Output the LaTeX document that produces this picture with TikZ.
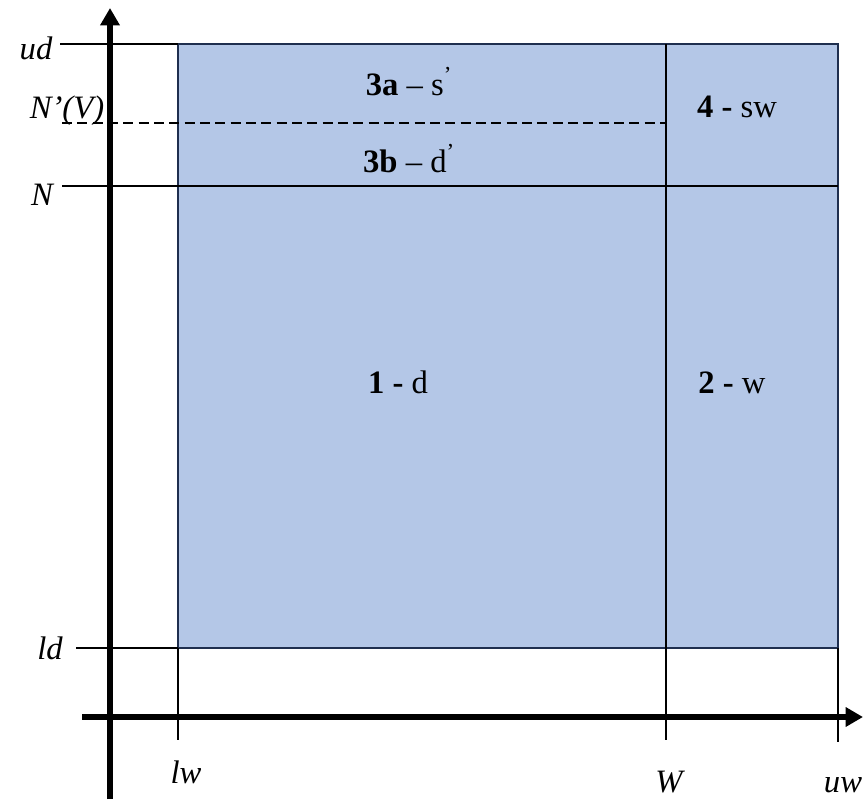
\documentclass[tikz,border=0pt]{standalone}
\usepackage{fontspec}
\setmainfont{Liberation Serif}
\usetikzlibrary{arrows.meta,positioning}
\definecolor{zoneBlue}{HTML}{B4C7E7}
\definecolor{zoneEdge}{HTML}{1F2F4F}

\begin{document}
\begin{tikzpicture}[x=0.75pt,y=-0.75pt,font=\fontsize{24.5}{29}\selectfont,
  axis/.style={line width=3.8pt,-{Triangle[width=14pt,length=13pt]}},
  guide/.style={line width=1pt},
  lbl/.style={inner sep=0pt,anchor=base},
  zone/.style={inner sep=0pt,anchor=base}]
\useasboundingbox (0,0) rectangle (863,799);
% corners and levels
\coordinate (lwud) at (178,44);
\coordinate (uwld) at (838,648);
\coordinate (udL) at (60,44);
\coordinate (nL) at (62,186);
\coordinate (nR) at (838,186);
\coordinate (nvL) at (62,123);
\coordinate (nvR) at (666,123);
\coordinate (ldL) at (76,648);
\coordinate (ldR) at (178,648);
\coordinate (wTop) at (666,44);
\coordinate (wBot) at (666,740);
\coordinate (lwBot) at (178,740);
\coordinate (uwTop) at (838,648);
\coordinate (uwBot) at (838,742);
\coordinate (yFoot) at (110,799);
\coordinate (yTip) at (110,8);
\coordinate (xFoot) at (82,717);
\coordinate (xTip) at (863,717);
% the zone
\fill[zoneBlue] (lwud) rectangle (uwld);
\draw[zoneEdge,line width=1.2pt] (lwud) rectangle (uwld);
\draw[guide] (udL) -- (lwud);
\draw[guide] (nL) -- (nR);
\draw[guide,dash pattern=on 7.5pt off 4pt] (nvL) -- (nvR);
\draw[guide] (ldL) -- (ldR);
\draw[guide] (wTop) -- (wBot);
\draw[guide] (ldR) -- (lwBot);
\draw[guide] (uwTop) -- (uwBot);
% axes
\draw[axis] (yFoot) -- (yTip);
\draw[axis] (xFoot) -- (xTip);
% axis labels
\node[lbl] (ud) at (36,60) {\itshape ud};
\node[lbl] (nv) at (67,118) {\itshape N’(V)};
\node[lbl] (n) at (42,205) {\itshape N};
\node[lbl] (ld) at (50,659) {\itshape ld};
\node[lbl] (lw) at (186,783) {\itshape lw};
\node[lbl] (w) at (669,792) {\itshape W};
\node[lbl] (uw) at (843,792) {\itshape uw};
% zone labels
\node[zone] (z3a) at (409,95) {\textbf{3a} – s\textsuperscript{’}};
\node[zone] (z3b) at (409,172) {\textbf{3b} – d\textsuperscript{’}};
\node[zone] (z4) at (737,117) {\textbf{4 -} sw};
\node[zone] (z1) at (398,393) {\textbf{1 -} d};
\node[zone] (z2) at (732,393) {\textbf{2 -} w};
\end{tikzpicture}
\end{document}
